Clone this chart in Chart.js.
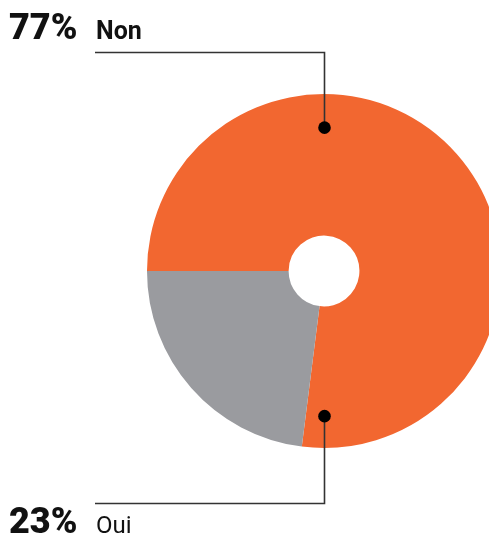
<!DOCTYPE html>
<html>
<head>
<meta charset="utf-8">
<script src="https://cdn.jsdelivr.net/npm/chart.js@4/dist/chart.umd.min.js"></script>
<style>
  html, body { margin: 0; padding: 0; background: #fff; overflow: hidden; }
  #wrap { position: absolute; left: 0; top: 0; width: 540px; height: 538px; }
</style>
</head>
<body>
<div id="wrap"><canvas id="chart"></canvas></div>
<script>
// data
const labels = ['Non', 'Oui'];
const values = [77, 23];
const colors = ['#F26730', '#9A9B9F'];

// callouts: which side of the ring the label sits on
const calloutSide = ['top', 'bottom'];

const calloutPlugin = {
    id: 'callouts',
    afterDraw(chart) {
        const ctx = chart.ctx;
        const arc = chart.getDatasetMeta(0).data[0];
        const cx = arc.x;
        const cy = arc.y;
        const r = arc.outerRadius;

        ctx.save();
        labels.forEach((lab, i) => {
            const top = calloutSide[i] === 'top';
            const dotY = top ? cy - r * 0.81 : cy + r * 0.82;
            const lineY = top ? 52.5 : 503.5;
            const baseY = top ? 39 : 533;

            // leader line
            ctx.strokeStyle = '#333';
            ctx.lineWidth = 1.6;
            ctx.beginPath();
            ctx.moveTo(95, lineY);
            ctx.lineTo(cx + 0.5, lineY);
            ctx.lineTo(cx + 0.5, dotY);
            ctx.stroke();

            // dot
            ctx.fillStyle = '#000';
            ctx.beginPath();
            ctx.arc(cx + 0.5, dotY, 6.3, 0, Math.PI * 2);
            ctx.fill();

            // texts
            ctx.fillStyle = '#111';
            ctx.textBaseline = 'alphabetic';
            ctx.textAlign = 'left';
            ctx.font = '900 36px Roboto';
            ctx.fillText(values[i] + '%', 9, baseY);
            ctx.font = top ? 'bold 25px Roboto' : '400 24px Roboto';
            ctx.fillText(lab, 96, baseY);
        });
        ctx.restore();
    }
};

new Chart(document.getElementById('chart'), {
    type: 'doughnut',
    data: {
        labels: labels,
        datasets: [{
            data: values,
            backgroundColor: colors,
            borderWidth: 0,
            hoverOffset: 0
        }]
    },
    options: {
        responsive: true,
        maintainAspectRatio: false,
        animation: false,
        rotation: 270,
        cutout: '20%',
        layout: {
            padding: { left: 147, right: 39, top: 94, bottom: 90 }
        },
        plugins: {
            legend: { display: false },
            tooltip: { enabled: false }
        }
    },
    plugins: [calloutPlugin]
});
</script>
</body>
</html>
